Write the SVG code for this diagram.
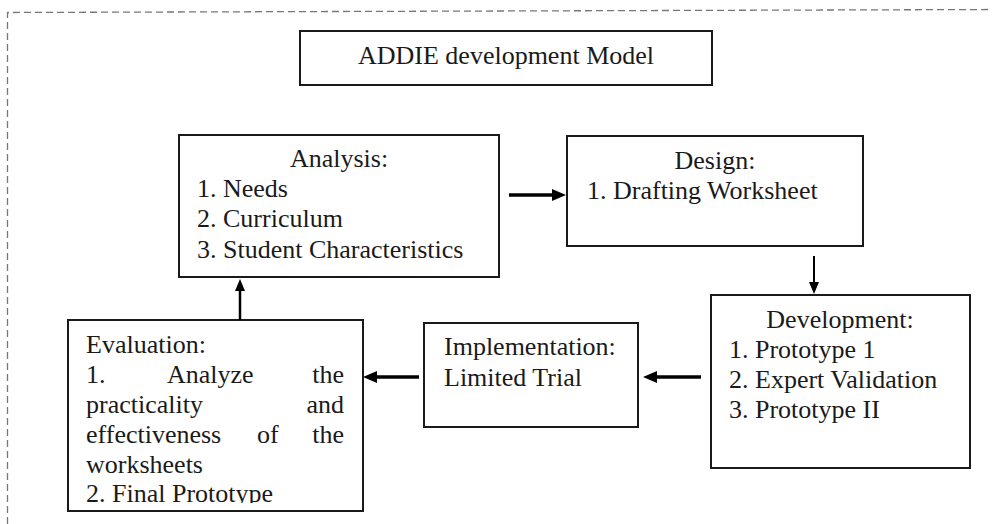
<svg xmlns="http://www.w3.org/2000/svg" width="992" height="524" viewBox="0 0 992 524">
<style>
.box{fill:#fff;stroke:#1a1a1a;stroke-width:2}
.t{font-family:"Liberation Serif","Times New Roman",serif;font-size:26px;fill:#1a1a1a}
.c{text-anchor:middle}
.e{text-anchor:end}
.conn{stroke:#000;fill:none}
</style>
<defs>
<marker id="ah" markerUnits="userSpaceOnUse" markerWidth="16" markerHeight="14" refX="4" refY="6" orient="auto">
<path d="M0,0 L14,6 L0,12 z" fill="#000"/>
</marker>
<marker id="ahs" markerUnits="userSpaceOnUse" markerWidth="14" markerHeight="12" refX="3" refY="5" orient="auto">
<path d="M0,0 L12,5 L0,10 z" fill="#000"/>
</marker>
<clipPath id="evclip"><rect x="68" y="320" width="296" height="183"/></clipPath>
</defs>
<rect width="992" height="524" fill="#fff"/>
<path d="M7.5,524 V12.5 L992,9.5" fill="none" stroke="#777" stroke-width="1.3" stroke-dasharray="7,4"/>

<g id="title">
<rect class="box" x="300" y="31" width="412" height="54"/>
<text class="t c" x="506" y="64">ADDIE development Model</text>
</g>

<g id="analysis">
<rect class="box" x="179" y="135" width="320" height="142"/>
<text class="t c" x="339" y="167">Analysis:</text>
<text class="t" x="197" y="197">1. Needs</text>
<text class="t" x="197" y="227">2. Curriculum</text>
<text class="t" x="197" y="258">3. Student Characteristics</text>
</g>

<g id="design">
<rect class="box" x="567" y="136" width="296" height="110"/>
<text class="t c" x="715" y="169">Design:</text>
<text class="t" x="587" y="199">1. Drafting Worksheet</text>
</g>

<g id="development">
<rect class="box" x="711" y="295" width="259" height="173"/>
<text class="t c" x="840" y="328">Development:</text>
<text class="t" x="729" y="358">1. Prototype 1</text>
<text class="t" x="729" y="388">2. Expert Validation</text>
<text class="t" x="729" y="418">3. Prototype II</text>
</g>

<g id="implementation">
<rect class="box" x="424" y="323" width="214" height="104"/>
<text class="t" x="444" y="355">Implementation:</text>
<text class="t" x="444" y="386">Limited Trial</text>
</g>

<g id="evaluation">
<rect class="box" x="68" y="320" width="295" height="191"/>
<g clip-path="url(#evclip)">
<text class="t" x="86" y="353">Evaluation:</text>
<text class="t" x="86" y="383">1.</text>
<text class="t" x="167" y="383">Analyze</text>
<text class="t e" x="344" y="383">the</text>
<text class="t" x="86" y="413">practicality</text>
<text class="t e" x="344" y="413">and</text>
<text class="t" x="86" y="443">effectiveness</text>
<text class="t" x="257" y="443">of</text>
<text class="t e" x="344" y="443">the</text>
<text class="t" x="86" y="473">worksheets</text>
<text class="t" x="86" y="502">2. Final Prototype</text>
</g>
</g>

<g id="connectors">
<line class="conn" x1="509" y1="195" x2="556" y2="195" stroke-width="3.5" marker-end="url(#ah)"/>
<line class="conn" x1="814" y1="256" x2="814" y2="285" stroke-width="2" marker-end="url(#ahs)"/>
<line class="conn" x1="701" y1="377" x2="653" y2="377" stroke-width="3.5" marker-end="url(#ah)"/>
<line class="conn" x1="419" y1="377" x2="373" y2="377" stroke-width="3.5" marker-end="url(#ah)"/>
<line class="conn" x1="240" y1="320" x2="240" y2="288" stroke-width="2.5" marker-end="url(#ahs)"/>
</g>
</svg>
